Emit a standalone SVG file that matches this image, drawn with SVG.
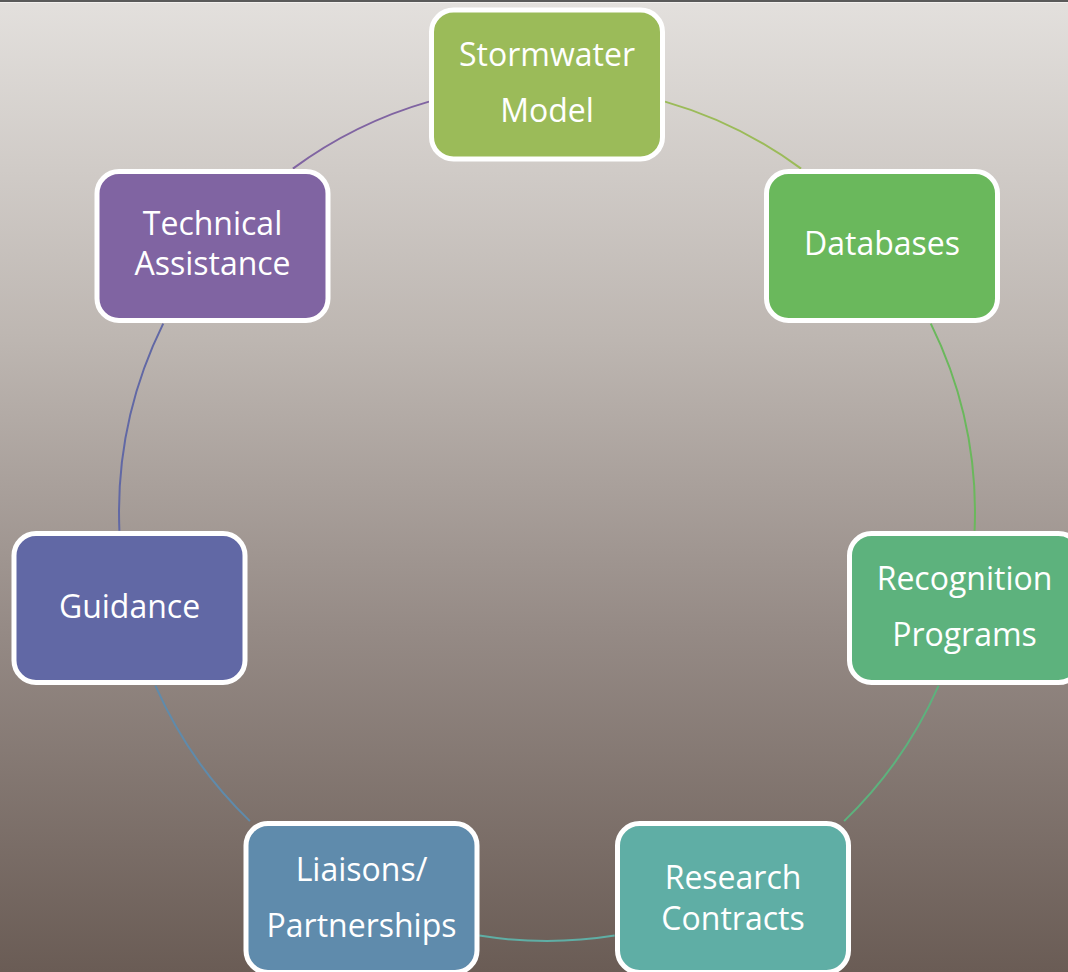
<svg xmlns="http://www.w3.org/2000/svg" width="1068" height="972" viewBox="0 0 1068 972">
  <defs>
    <linearGradient id="bg" x1="0" y1="0" x2="0" y2="1">
      <stop offset="0" stop-color="#E3E0DD"/>
      <stop offset="0.35" stop-color="#BDB6B1"/>
      <stop offset="0.65" stop-color="#958A85"/>
      <stop offset="1" stop-color="#6A5C55"/>
    </linearGradient>
  </defs>
  <style>
    .box { stroke: #FFFFFF; stroke-width: 5; }
    .lbl { font-family: "Open Sans", "Noto Sans", "Liberation Sans", sans-serif; font-size: 32px; fill: #FFFFFF; text-anchor: middle; }
    .arc { fill: none; stroke-width: 2; }
  </style>
  <rect x="0" y="0" width="1068" height="972" fill="url(#bg)"/>
  <rect x="0" y="0" width="1068" height="2" fill="#5A5A5A"/>
  <rect x="0" y="2" width="1068" height="1" fill="#F2F0EE"/>

  <g id="connectors">
    <path class="arc" stroke="#9BBB59" d="M 665 101.6 A 428 428 0 0 1 801.1 168.6"/>
    <path class="arc" stroke="#6AB85C" d="M 930.8 323.6 A 428 428 0 0 1 974.6 530.7"/>
    <path class="arc" stroke="#5DB27D" d="M 938.6 685.7 A 428 428 0 0 1 844.1 821.1"/>
    <path class="arc" stroke="#5FAEA5" d="M 614.7 935.6 A 428 428 0 0 1 479.3 935.6"/>
    <path class="arc" stroke="#5F8BAC" d="M 249.9 821.1 A 428 428 0 0 1 155.4 685.7"/>
    <path class="arc" stroke="#6168A5" d="M 119.4 530.7 A 428 428 0 0 1 163.2 323.6"/>
    <path class="arc" stroke="#8064A2" d="M 292.9 168.6 A 428 428 0 0 1 429 101.6"/>
  </g>

  <g id="node-stormwater">
    <rect class="box" x="431.5" y="10" width="231" height="149" rx="22" fill="#9BBB59"/>
    <text class="lbl" x="547" y="66">Stormwater</text>
    <text class="lbl" x="547" y="122">Model</text>
  </g>
  <g id="node-databases">
    <rect class="box" x="766.5" y="171.5" width="231" height="149" rx="22" fill="#6AB85C"/>
    <text class="lbl" x="882" y="255">Databases</text>
  </g>
  <g id="node-recognition">
    <rect class="box" x="849.5" y="533.5" width="231" height="149" rx="22" fill="#5DB27D"/>
    <text class="lbl" x="964.5" y="590">Recognition</text>
    <text class="lbl" x="964.5" y="646">Programs</text>
  </g>
  <g id="node-research">
    <rect class="box" x="617.5" y="823.5" width="231" height="149" rx="22" fill="#5FAEA5"/>
    <text class="lbl" x="733" y="889">Research</text>
    <text class="lbl" x="733" y="930">Contracts</text>
  </g>
  <g id="node-liaisons">
    <rect class="box" x="246" y="823.5" width="231" height="149" rx="22" fill="#5F8BAC"/>
    <text class="lbl" x="361.5" y="881">Liaisons/</text>
    <text class="lbl" x="361.5" y="937">Partnerships</text>
  </g>
  <g id="node-guidance">
    <rect class="box" x="14" y="533.5" width="231" height="149" rx="22" fill="#6168A5"/>
    <text class="lbl" x="129.5" y="618">Guidance</text>
  </g>
  <g id="node-technical">
    <rect class="box" x="97" y="171.5" width="231" height="149" rx="22" fill="#8064A2"/>
    <text class="lbl" x="212.5" y="235">Technical</text>
    <text class="lbl" x="212.5" y="275">Assistance</text>
  </g>
</svg>
